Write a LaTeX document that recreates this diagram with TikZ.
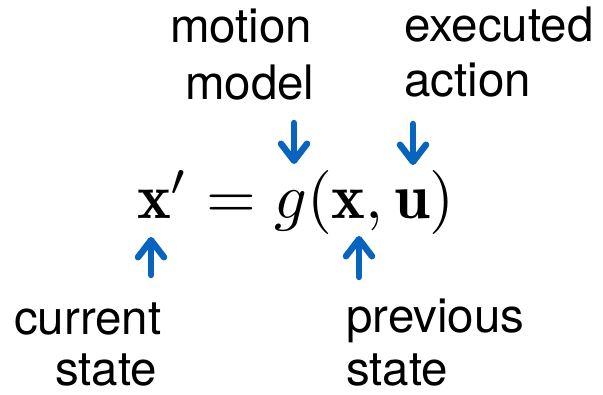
\documentclass[tikz,border=0pt]{standalone}
\usepackage{graphicx}
\usepackage{fontspec}
\setsansfont{TeX Gyre Heros}
\usetikzlibrary{arrows.meta}
\definecolor{arrowblue}{RGB}{8,100,190}
\tikzset{
  lbl/.style={inner sep=0pt, anchor=base west, font=\sffamily\fontsize{47.5}{56}\selectfont},
  ptr/.style={draw=arrowblue, line width=6.5pt, line cap=round,
    -{Straight Barb[length=17pt,width=26pt,line cap=round,line join=round]}}
}
\begin{document}
\begin{tikzpicture}[x=1pt,y=-1pt]
\useasboundingbox (0,0) rectangle (603,395);
\node[inner sep=0pt, anchor=base west] (eq) at (137,219)
  {\scalebox{6.4}{$\mathbf{x}' = g(\mathbf{x}, \mathbf{u})$}};
\node[lbl] (motion) at (170,43) {motion};
\node[lbl] (model) at (185,100) {model};
\node[lbl] (executed) at (404,42) {executed};
\node[lbl] (action) at (404,97) {action};
\node[lbl] (current) at (14,335) {current};
\node[lbl] (state1) at (55,386) {state};
\node[lbl] (previous) at (346,333) {previous};
\node[lbl] (state2) at (346,386) {state};
\coordinate (a1s) at (294,123);
\coordinate (a1e) at (294,164);
\coordinate (a2s) at (413,124);
\coordinate (a2e) at (413,165);
\coordinate (a3s) at (151,275);
\coordinate (a3e) at (151,237);
\coordinate (a4s) at (359,277);
\coordinate (a4e) at (359,236);
\draw[ptr] (a1s) -- (a1e);
\draw[ptr] (a2s) -- (a2e);
\draw[ptr] (a3s) -- (a3e);
\draw[ptr] (a4s) -- (a4e);
\end{tikzpicture}
\end{document}
